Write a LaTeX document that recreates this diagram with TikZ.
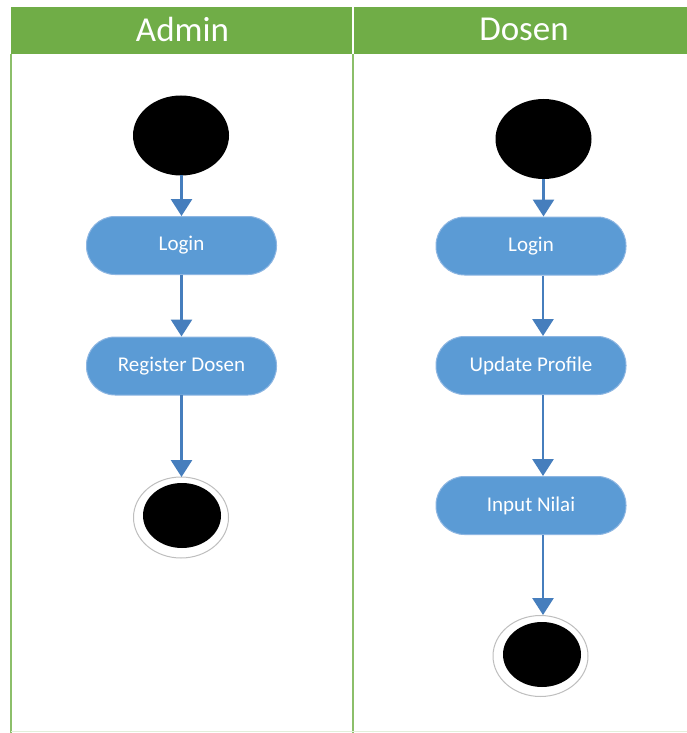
\documentclass[tikz,border=0pt]{standalone}
\usepackage{fontspec}
\setmainfont{Carlito}
\usetikzlibrary{arrows.meta,shapes.geometric}
\definecolor{hdrgreen}{HTML}{70AD47}
\definecolor{lanegreen}{HTML}{8CBF6A}
\definecolor{pillblue}{HTML}{5B9BD5}
\definecolor{pillborder}{HTML}{8DB6E2}
\definecolor{arrowblue}{HTML}{467EBD}
\definecolor{ringgray}{HTML}{BEBEBE}
\tikzset{
  pill/.style={rectangle, rounded corners=28.5pt, minimum width=190pt, minimum height=58pt,
    fill=pillblue, draw=pillborder, line width=1pt, text=white, font=\fontsize{21}{23}\selectfont, inner sep=0pt},
  startnode/.style={ellipse, fill=black, minimum width=96pt, minimum height=80pt, inner sep=0pt},
  endouter/.style={ellipse, fill=white, draw=ringgray, line width=1pt, minimum width=95pt, minimum height=81pt, inner sep=0pt},
  endinner/.style={ellipse, fill=black, minimum width=78pt, minimum height=65pt, inner sep=0pt},
  flow/.style={draw=arrowblue, line width=2.8pt, -{Triangle[length=17pt,width=21pt]}},
  hdrtext/.style={text=white, font=\fontsize{35}{37}\selectfont},
  laneline/.style={draw=lanegreen, line width=1.4pt}
}
\begin{document}
\begin{tikzpicture}[x=1pt,y=-1pt]
\useasboundingbox (0,0) rectangle (687,733);
\fill[white] (0,0) rectangle (687,733);
% lanes
\draw[laneline] (11,54) -- (11,733);
\draw[laneline] (353,54) -- (353,733);
\draw[draw=lanegreen!25, line width=1pt] (11,731.5) -- (687,731.5);
% header
\fill[hdrgreen] (11,7) rectangle (687,54);
\draw[white, line width=1.5pt] (353,7) -- (353,54);
\node[hdrtext] (hA) at (182.5,29) {Admin};
\node[hdrtext] (hD) at (524,29) {Dosen};
% Admin lane
\node[startnode] (as) at (181,135.5) {};
\node[pill] (al) at (181.5,245.5) {Login};
\node[pill] (ar) at (181.5,366) {Register Dosen};
\node[endouter] (ae) at (181,517.5) {};
\node[endinner] (aei) at (182,515.5) {};
\coordinate (as1) at (181.5,175);
\coordinate (al1) at (181.5,274.5);
\coordinate (ar1) at (181.5,395);
\coordinate (ae1) at (181.5,477);
\draw[flow] (as1) -- (al.north -| as1);
\draw[flow] (al1) -- (ar.north -| al1);
\draw[flow] (ar1) -- (ae1);
% Dosen lane
\node[startnode] (ds) at (543.5,139) {};
\node[pill] (dl) at (531,246) {Login};
\node[pill] (du) at (531,365.5) {Update Profile};
\node[pill] (dn) at (531,505.5) {Input Nilai};
\node[endouter] (de) at (540.5,656) {};
\node[endinner] (dei) at (542,654.5) {};
\coordinate (dx) at (543,0);
\draw[flow] (ds.south) -- (dl.north -| ds.south);
\draw[flow] (dl.south -| dx) -- (du.north -| dx);
\draw[flow] (du.south -| dx) -- (dn.north -| dx);
\draw[flow] (dn.south -| dx) -- (de.north -| dx);
\end{tikzpicture}
\end{document}
